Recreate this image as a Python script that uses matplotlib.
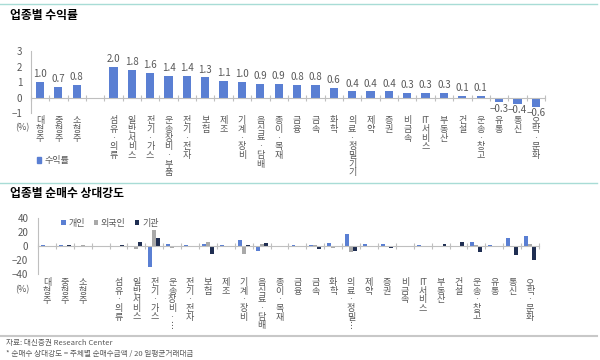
"""
업종별 수익률 / 순매수 상대강도 차트
"""
import numpy as np
import matplotlib
matplotlib.use('Agg')
import matplotlib.pyplot as plt
from matplotlib.lines import Line2D
from matplotlib.patches import Patch

plt.rcParams['font.family'] = ['Noto Sans CJK KR', 'DejaVu Sans']
plt.rcParams['axes.unicode_minus'] = True

# 규모별 / 업종별 이름
size_names = ['대형주', '중형주', '소형주']
sector_names = ['섬유·의류', '일반서비스', '전기·가스', '운송장비·부품', '전기·전자', '보험', '제조',
                '기계·장비', '음식료·담배', '종이·목재', '금융', '금속', '화학', '의료·정밀기기', '제약',
                '증권', '비금속', 'IT서비스', '부동산', '건설', '운송·창고', '유통', '통신', '오락·문화']
# 아래 차트 라벨 (잘린 것 포함)
sector_names_short = ['섬유·의류', '일반서비스', '전기·가스', '운송장비·⋮', '전기·전자', '보험', '제조',
                      '기계·장비', '음식료·담배', '종이·목재', '금융', '금속', '화학', '의료·정밀⋮', '제약',
                      '증권', '비금속', 'IT서비스', '부동산', '건설', '운송·창고', '유통', '통신', '오락·문화']

# 수익률 (%)
size_return = [1.0, 0.7, 0.8]
sector_return = [2.0, 1.8, 1.6, 1.4, 1.4, 1.3, 1.1, 1.0, 0.9, 0.9, 0.8, 0.8, 0.6, 0.4, 0.4,
                 0.4, 0.3, 0.3, 0.3, 0.1, 0.1, -0.3, -0.4, -0.6]

# 순매수 상대강도 (%)
size_indiv = [2, 2, -1]
size_foreign = [-2, -2, 1]
size_inst = [0.5, 1, 0]
sector_indiv = [0, -2, -30, 3, 1, 3, 2, 9, -7, 0, 1, 1, 5, 17, 3, 3, -1, 2, 0, -1, 6, 2, 11, 15]
sector_foreign = [0, -4, 23, -3, -1, 6, -2, -11, 3, 0, -1, 2, -3, -8, -2, 0, 0, -2, -1, -1, 2, -1, 0, 3]
sector_inst = [1, 6, 12, -1, -1, -11, 0, 2, 4, 0, 0, -4, 0, -7, -1, -3, 0, -2, 3, 6, -9, -1, -13, -20]

BLUE = '#5A7FD3'
GRAY = '#A9A9A9'
NAVY = '#1F2E52'
TXT = '#595959'
AX = '#BFBFBF'


def vert(s):
    return '\n'.join(list(s.replace('IT', '\x00'))).replace('\x00', 'IT')


x_size = np.arange(len(size_names))
x_sector = np.arange(len(sector_names)) + len(size_names) + 1
x_all = np.concatenate([x_size, x_sector])
n_slots = len(size_names) + 1 + len(sector_names)

fig = plt.figure(figsize=(6, 3.6), dpi=100)

# 구분선, 제목, 출처
fig.add_artist(Line2D([0, 0.995], [1 - 4 / 360] * 2, color='#A8DCD6', lw=1))
fig.add_artist(Line2D([0, 0.995], [1 - 183 / 360] * 2, color='#A8DCD6', lw=1))
fig.add_artist(Line2D([0, 0.995], [1 - 336 / 360] * 2, color='#C8C8C8', lw=1.5))
fig.text(10 / 600, 1 - 15 / 360, '업종별 수익률', fontsize=8.5, fontweight='bold', va='center')
fig.text(10 / 600, 1 - 193 / 360, '업종별 순매수 상대강도', fontsize=8.5, fontweight='bold', va='center')
fig.text(6 / 600, 1 - 343 / 360, '자료: 대신증권 Research Center', fontsize=5.5, color=TXT, va='center')
fig.text(6 / 600, 1 - 354 / 360, '* 순매수 상대강도 = 주체별 순매수금액 / 20 일평균거래대금',
         fontsize=5.5, color=TXT, va='center')


def style_axes(ax, ylim, yticks, pad):
    ax.set_xlim(-0.5, n_slots - 0.5)
    ax.set_ylim(*ylim)
    ax.set_yticks(yticks)
    ax.set_yticklabels([f'{v:g}'.replace('-', '−') for v in yticks])
    ax.tick_params(axis='y', length=0, labelsize=7, colors=TXT, pad=pad)
    for s in ['top', 'right']:
        ax.spines[s].set_visible(False)
    ax.spines['left'].set_color(AX)
    ax.spines['bottom'].set_color(AX)
    ax.spines['bottom'].set_position(('data', 0))
    ax.set_xticks(np.arange(n_slots + 1) - 0.5)
    ax.set_xticklabels([])
    ax.tick_params(axis='x', direction='inout', length=4, color=AX)
    ax.patch.set_alpha(0)


# 업종별 수익률
ax1 = fig.add_axes([0.0513, 0.686, 0.857, 0.172])
style_axes(ax1, (-1, 3), [3, 2, 1, 0, -1], pad=6)
returns = size_return + sector_return
ax1.bar(x_all, returns, width=0.45, color=BLUE, label='수익률')
for x, v in zip(x_all, returns):
    ax1.text(x, v + (0.18 if v >= 0 else -0.1), f'{v:.1f}'.replace('-', '−'),
             ha='center', va='bottom' if v >= 0 else 'top', fontsize=7, color=TXT)
for x, name in zip(x_all, size_names + sector_names):
    ax1.text(x, -1.22, vert(name), ha='center', va='top', fontsize=6.5, color=TXT, linespacing=0.95)
ax1.text(-0.55, -1.95, '(%)', ha='right', va='center', fontsize=6.5, color=TXT)
ax1.legend(handles=[Patch(color=BLUE, label='수익률')], loc='center left', bbox_to_anchor=(0.012, -0.77),
           frameon=False, fontsize=6.5, handlelength=0.5, handleheight=0.5, handletextpad=0.3,
           borderpad=0, borderaxespad=0, labelcolor=TXT)

# 업종별 순매수 상대강도
ax2 = fig.add_axes([0.0633, 0.239, 0.835, 0.155])
style_axes(ax2, (-40, 40), [40, 20, 0, -20, -40], pad=7)
w = 0.22
indiv = size_indiv + sector_indiv
foreign = size_foreign + sector_foreign
inst = size_inst + sector_inst
ax2.bar(x_all - w, indiv, width=w, color=BLUE, label='개인')
ax2.bar(x_all, foreign, width=w, color=GRAY, label='외국인')
ax2.bar(x_all + w, inst, width=w, color=NAVY, label='기관')
for x, name in zip(x_all, size_names + sector_names_short):
    ax2.text(x, -46, vert(name), ha='center', va='top', fontsize=6.5, color=TXT, linespacing=0.95)
ax2.text(-0.95, -63, '(%)', ha='right', va='center', fontsize=6.5, color=TXT)
ax2.legend(loc='center left', bbox_to_anchor=(0.046, 0.91), ncol=3, frameon=False, fontsize=6.5,
           handlelength=0.5, handleheight=0.5, handletextpad=0.3, columnspacing=1.0,
           borderpad=0, borderaxespad=0, labelcolor=TXT)

fig.savefig('out.png', dpi=100)
